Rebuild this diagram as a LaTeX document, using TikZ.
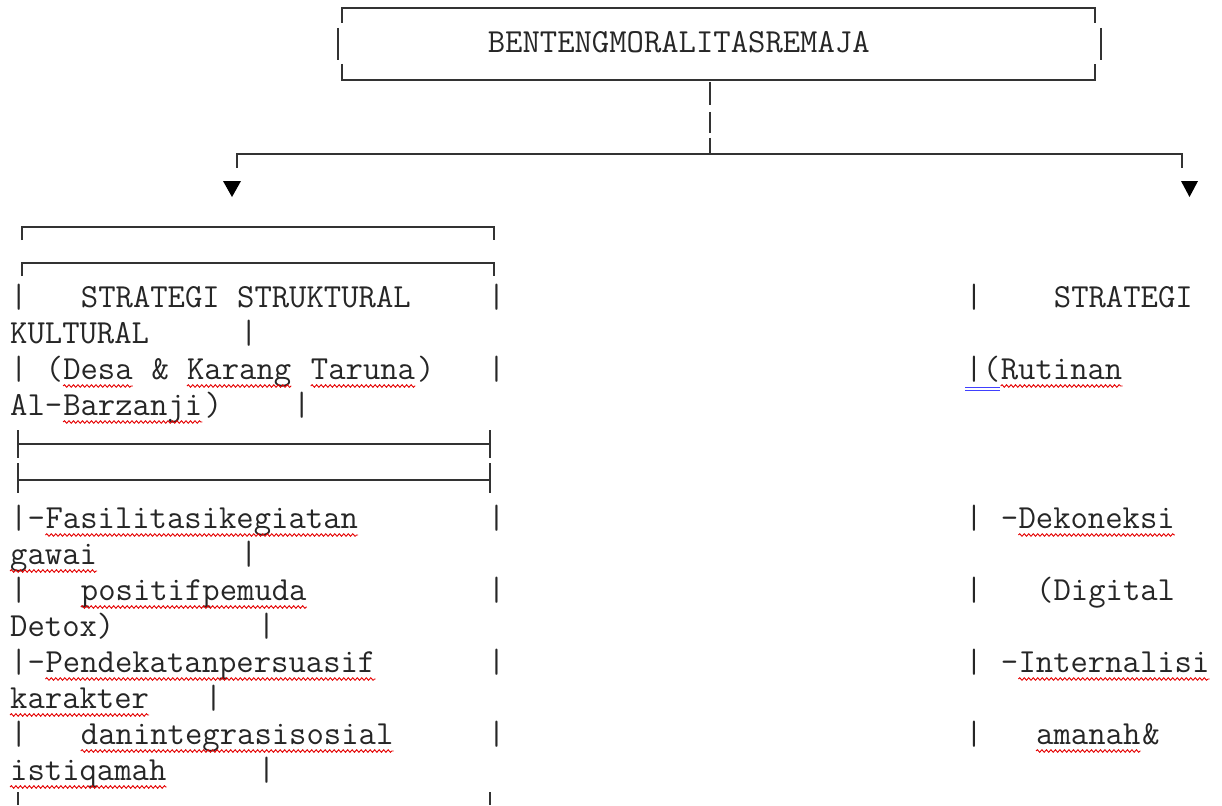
\documentclass[tikz,border=0pt]{standalone}
\usepackage{fontspec}
\usepackage{xcolor}
\usepackage{tikz}
\usetikzlibrary{positioning, decorations.pathmorphing}

% character grid of the monospaced layout
\newcommand{\gx}[1]{10+#1*17.69}

\begin{document}
\begin{tikzpicture}[x=1pt, y=-1pt,
    txt/.style={anchor=base west, inner sep=0pt, text=black!85,
        font=\ttfamily\fontsize{33.7}{36}\selectfont\frenchspacing},
    squig/.style={draw=red!90!black, line width=0.9pt, decorate,
        decoration={snake, amplitude=1.3pt, segment length=4.5pt}},
    typo/.style={append after command={([yshift=-7pt]\tikzlastnode.base west)
        edge[squig] ([yshift=-7pt]\tikzlastnode.base east)}},
    boxline/.style={draw=black!80, line width=1.6pt},
    bar/.style={draw=black!80, line width=2.6pt}]
    \useasboundingbox (0,0) rectangle (1222,805);

    % top box
    \draw[boxline] (342,23) -- (342,8) -- (1095,8) -- (1095,23);
    \draw[boxline] (342,64) -- (342,80) -- (1095,80) -- (1095,64);
    \draw[bar] (338,28) -- (338,60) (1101,28) -- (1101,60);
    \node[txt] (root) at ({\gx{27}},53) {BENTENGMORALITASREMAJA};

    % branching
    \coordinate (rootfoot) at (710,80);
    \coordinate (fork) at (710,154);
    \draw[boxline] ([yshift=-2pt]rootfoot) -- ++(0,23) ++(0,7) -- ++(0,21) ++(0,5) -- (fork);
    \draw[boxline] (237,168) |- (fork) -| (1182,168);
    \fill[black] (223,181) -- (241,181) -- (232,197) -- cycle;
    \fill[black] (1181,181) -- (1198,181) -- (1189.5,197) -- cycle;

    % left block
    \draw[boxline] (22,240) |- (494,227) -- (494,240);
    \draw[boxline] (22,276) |- (494,263) -- (494,276);
    \node[txt] (s1) at ({\gx{0}},307) {|};
    \node[txt] (s1a) at ({\gx{4}},307) {STRATEGI STRUKTURAL};
    \node[txt] (s1b) at ({\gx{27}},307) {|};
    \node[txt] (s2) at ({\gx{0}},343) {KULTURAL};
    \node[txt] (s2a) at ({\gx{13}},343) {|};
    \node[txt] (s3) at ({\gx{0}},379) {|};
    \node[txt] (s3a) at ({\gx{2}},379) {(};
    \node[txt, typo] (s3b) at ({\gx{3}},379) {Desa};
    \node[txt] (s3c) at ({\gx{8}},379) {\&};
    \node[txt, typo] (s3d) at ({\gx{10}},379) {Karang};
    \node[txt, typo] (s3e) at ({\gx{17}},379) {Taruna};
    \node[txt] (s3f) at ({\gx{23}},379) {)};
    \node[txt] (s3g) at ({\gx{27}},379) {|};
    \node[txt] (s4) at ({\gx{0}},415) {Al-};
    \node[txt, typo] (s4a) at ({\gx{3}},415) {Barzanji};
    \node[txt] (s4b) at ({\gx{11}},415) {)};
    \node[txt] (s4c) at ({\gx{16}},415) {|};
    \draw[boxline] (18,430) -- (18,458) (18,444) -- (490,444) (490,430) -- (490,458);
    \draw[boxline] (18,463) -- (18,493) (18,480) -- (490,480) (490,463) -- (490,493);
    \node[txt] (s5) at ({\gx{0}},528) {|-};
    \node[txt, typo] (s5a) at ({\gx{2}},528) {Fasilitasikegiatan};
    \node[txt] (s5b) at ({\gx{27}},528) {|};
    \node[txt, typo] (s6) at ({\gx{0}},564) {gawai};
    \node[txt] (s6a) at ({\gx{13}},564) {|};
    \node[txt] (s7) at ({\gx{0}},600) {|};
    \node[txt, typo] (s7a) at ({\gx{4}},600) {positifpemuda};
    \node[txt] (s7b) at ({\gx{27}},600) {|};
    \node[txt] (s8) at ({\gx{0}},636) {Detox)};
    \node[txt] (s8a) at ({\gx{14}},636) {|};
    \node[txt] (s9) at ({\gx{0}},672) {|-};
    \node[txt, typo] (s9a) at ({\gx{2}},672) {Pendekatanpersuasif};
    \node[txt] (s9b) at ({\gx{27}},672) {|};
    \node[txt, typo] (s10) at ({\gx{0}},708) {karakter};
    \node[txt] (s10a) at ({\gx{11}},708) {|};
    \node[txt] (s11) at ({\gx{0}},744) {|};
    \node[txt, typo] (s11a) at ({\gx{4}},744) {danintegrasisosial};
    \node[txt] (s11b) at ({\gx{27}},744) {|};
    \node[txt, typo] (s12) at ({\gx{0}},780) {istiqamah};
    \node[txt] (s12a) at ({\gx{14}},780) {|};
    \draw[boxline] (18,792) -- (18,805) (490,792) -- (490,805);

    % right block
    \node[txt] (r1) at ({\gx{54}},307) {|};
    \node[txt] (r1a) at ({\gx{59}},307) {STRATEGI};
    \node[txt] (r3) at ({\gx{54}},379) {|(};
    \node[txt, typo] (r3a) at ({\gx{56}},379) {Rutinan};
    \draw[blue!75, line width=0.8pt] ([yshift=-8pt]r3.base west) -- ([yshift=-8pt]r3.base east)
        ([yshift=-11pt]r3.base west) -- ([yshift=-11pt]r3.base east);
    \node[txt] (r5) at ({\gx{54}},528) {|};
    \node[txt] (r5a) at ({\gx{56}},528) {-};
    \node[txt, typo] (r5b) at ({\gx{57}},528) {Dekoneksi};
    \node[txt] (r7) at ({\gx{54}},600) {|};
    \node[txt] (r7a) at ({\gx{58}},600) {(Digital};
    \node[txt] (r9) at ({\gx{54}},672) {|};
    \node[txt] (r9a) at ({\gx{56}},672) {-};
    \node[txt, typo] (r9b) at ({\gx{57}},672) {Internalisi};
    \node[txt] (r11) at ({\gx{54}},744) {|};
    \node[txt, typo] (r11a) at ({\gx{58}},744) {amanah};
    \node[txt] (r11b) at ({\gx{64}},744) {\&};
\end{tikzpicture}
\end{document}
